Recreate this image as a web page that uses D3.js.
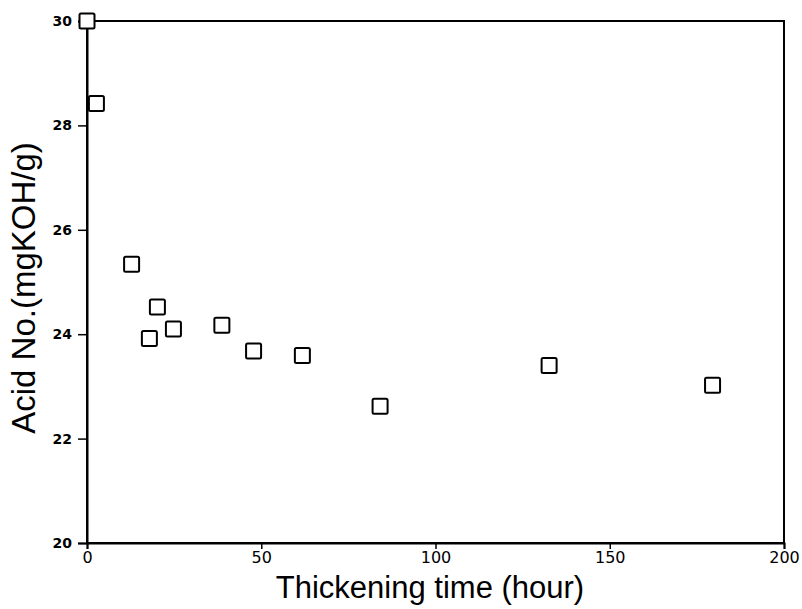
<!DOCTYPE html>
<html>
<head>
<meta charset="utf-8">
<script src="https://cdn.jsdelivr.net/npm/d3@7"></script>
<style>
  body { margin: 0; background: white; }
</style>
</head>
<body>
<div id="viz-container"></div>
<script>
// thickening time (hour) and acid number
let hours  = [0, 2.7, 12.8, 17.9, 20.2, 24.8, 38.7, 47.8, 61.8, 84.1, 132.6, 179.5];
let acidNo = [30.0, 28.42, 25.34, 23.92, 24.52, 24.10, 24.17, 23.68, 23.59, 22.62, 23.40, 23.02];

let xTicks = [0, 50, 100, 150, 200];
let yTicks = [20, 22, 24, 26, 28, 30];

let width = 802, height = 609;
let margin = { top: 21, right: 18, bottom: 66, left: 87 };

let viz = d3.select("#viz-container")
  .append("svg")
    .attr("width", width)
    .attr("height", height)
;

let xScale = d3.scaleLinear().domain([0, 200]).range([margin.left, width - margin.right]);
let yScale = d3.scaleLinear().domain([20, 30]).range([height - margin.bottom, margin.top]);

// frame round the plot
viz.append("rect")
  .attr("x", margin.left)
  .attr("y", margin.top)
  .attr("width", width - margin.left - margin.right)
  .attr("height", height - margin.top - margin.bottom)
  .attr("fill", "none")
  .attr("stroke", "black")
  .attr("stroke-width", 2)
;

// x axis
let xAxis = viz.append("g")
  .attr("transform", "translate(0," + (height - margin.bottom) + ")")
  .call(d3.axisBottom(xScale).tickValues(xTicks).tickSize(6).tickPadding(3))
;
xAxis.select(".domain").attr("stroke-width", 2);
xAxis.selectAll("line").attr("stroke-width", 1.5);
xAxis.selectAll("text")
  .attr("font-family", "DejaVu Sans")
  .attr("font-size", 16)
  .attr("fill", "black")
;

// y axis
let yAxis = viz.append("g")
  .attr("transform", "translate(" + margin.left + ",0)")
  .call(d3.axisLeft(yScale).tickValues(yTicks).tickSize(9).tickPadding(6))
;
yAxis.select(".domain").attr("stroke-width", 2);
yAxis.selectAll("line").attr("stroke-width", 1.5);
yAxis.selectAll("text")
  .attr("font-family", "DejaVu Sans")
  .attr("font-weight", "bold")
  .attr("font-size", 14)
  .attr("fill", "black")
;

// axis titles
viz.append("text")
  .attr("x", 430)
  .attr("y", 598)
  .attr("text-anchor", "middle")
  .attr("font-family", "Liberation Sans")
  .attr("font-size", 31)
  .text("Thickening time (hour)")
;

viz.append("text")
  .attr("transform", "translate(35,288) rotate(-90)")
  .attr("text-anchor", "middle")
  .attr("font-family", "Liberation Sans")
  .attr("font-size", 33)
  .text("Acid No.(mgKOH/g)")
;

// open square markers
let points = hours.map(function(h, i){
  return { hour: h, acid: acidNo[i] };
});

let size = 15;
viz.selectAll(".pt").data(points).enter()
  .append("rect")
    .attr("class", "pt")
    .attr("x", function(d){ return xScale(d.hour) - size / 2; })
    .attr("y", function(d){ return yScale(d.acid) - size / 2; })
    .attr("width", size)
    .attr("height", size)
    .attr("rx", 1.5)
    .attr("fill", "white")
    .attr("stroke", "black")
    .attr("stroke-width", 2)
;
</script>
</body>
</html>
